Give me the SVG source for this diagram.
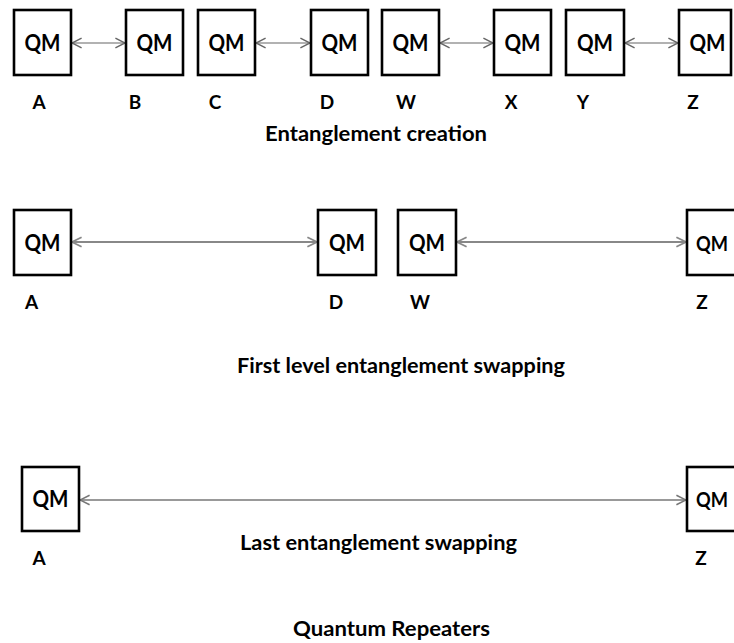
<svg xmlns="http://www.w3.org/2000/svg" width="734" height="643" viewBox="0 0 734 643">
<style>
.box{fill:#fff;stroke:#000;stroke-width:2.6}
.qm{font-family:Lato,"Open Sans",sans-serif;font-weight:bold;font-size:22px;fill:#000;text-anchor:middle}
.qme{font-family:Lato,"Open Sans",sans-serif;font-weight:bold;font-size:21px;fill:#000;text-anchor:start}
.lbl{font-family:Lato,"Open Sans",sans-serif;font-weight:bold;font-size:19px;fill:#000;text-anchor:middle}
.ttl{font-family:Lato,"Open Sans",sans-serif;font-weight:bold;font-size:21px;fill:#000;text-anchor:middle}
.c1{stroke:#666;stroke-width:1.2;fill:none;marker-start:url(#ah1);marker-end:url(#ah1)}
.c2{stroke:#888;stroke-width:1.8;fill:none;marker-start:url(#ah2);marker-end:url(#ah2)}
.c3{stroke:#777;stroke-width:1.4;fill:none;marker-start:url(#ah3);marker-end:url(#ah3)}
</style>
<defs>
<marker id="ah1" markerUnits="userSpaceOnUse" markerWidth="12" markerHeight="12" viewBox="-1 -1 10 10" refX="8" refY="4" orient="auto-start-reverse"><path d="M0,0 L8,4 L0,8" fill="none" stroke="#666" stroke-width="1.2"/></marker>
<marker id="ah2" markerUnits="userSpaceOnUse" markerWidth="12" markerHeight="12" viewBox="-1 -1 10 10" refX="8" refY="4" orient="auto-start-reverse"><path d="M0,0 L8,4 L0,8" fill="none" stroke="#888" stroke-width="1.5"/></marker>
<marker id="ah3" markerUnits="userSpaceOnUse" markerWidth="12" markerHeight="12" viewBox="-1 -1 10 10" refX="8" refY="4" orient="auto-start-reverse"><path d="M0,0 L8,4 L0,8" fill="none" stroke="#777" stroke-width="1.3"/></marker>
</defs>
<rect width="734" height="643" fill="#fff"/>

<g id="connectors">
<line class="c1" x1="72" y1="43" x2="125" y2="43"/>
<line class="c1" x1="256" y1="43" x2="310" y2="43"/>
<line class="c1" x1="440" y1="43" x2="493" y2="43"/>
<line class="c1" x1="625" y1="43" x2="678" y2="43"/>
<line class="c2" x1="72" y1="242" x2="317" y2="242"/>
<line class="c2" x1="457" y1="242" x2="686" y2="242"/>
<line class="c3" x1="80" y1="500" x2="686" y2="500"/>
</g>

<!-- Row 1 -->
<g id="r1-A"><rect class="box" x="14" y="10" width="57" height="65"/><text class="qm" x="42.5" y="51" textLength="36" lengthAdjust="spacingAndGlyphs">QM</text><text class="lbl" x="39" y="109">A</text></g>
<g id="r1-B"><rect class="box" x="126" y="10" width="57" height="65"/><text class="qm" x="154.5" y="51" textLength="36" lengthAdjust="spacingAndGlyphs">QM</text><text class="lbl" x="135" y="109">B</text></g>
<g id="r1-C"><rect class="box" x="198" y="10" width="57" height="65"/><text class="qm" x="226.5" y="51" textLength="36" lengthAdjust="spacingAndGlyphs">QM</text><text class="lbl" x="215" y="109">C</text></g>
<g id="r1-D"><rect class="box" x="311" y="10" width="57" height="65"/><text class="qm" x="339.5" y="51" textLength="36" lengthAdjust="spacingAndGlyphs">QM</text><text class="lbl" x="327" y="109">D</text></g>
<g id="r1-W"><rect class="box" x="382" y="10" width="57" height="65"/><text class="qm" x="410.5" y="51" textLength="36" lengthAdjust="spacingAndGlyphs">QM</text><text class="lbl" x="406" y="109">W</text></g>
<g id="r1-X"><rect class="box" x="494" y="10" width="57" height="65"/><text class="qm" x="522.5" y="51" textLength="36" lengthAdjust="spacingAndGlyphs">QM</text><text class="lbl" x="511" y="109">X</text></g>
<g id="r1-Y"><rect class="box" x="566" y="10" width="58" height="65"/><text class="qm" x="595" y="51" textLength="36" lengthAdjust="spacingAndGlyphs">QM</text><text class="lbl" x="583" y="109">Y</text></g>
<g id="r1-Z"><rect class="box" x="679" y="10" width="52" height="65"/><text class="qm" x="707.5" y="51" textLength="36" lengthAdjust="spacingAndGlyphs">QM</text><text class="lbl" x="693" y="109">Z</text></g>
<text class="ttl" x="376" y="141" textLength="222" lengthAdjust="spacingAndGlyphs">Entanglement creation</text>

<!-- Row 2 -->
<g id="r2-A"><rect class="box" x="14" y="210" width="57" height="65"/><text class="qm" x="42.5" y="251" textLength="36" lengthAdjust="spacingAndGlyphs">QM</text><text class="lbl" x="31.5" y="309">A</text></g>
<g id="r2-D"><rect class="box" x="318" y="210" width="58" height="65"/><text class="qm" x="347" y="251" textLength="36" lengthAdjust="spacingAndGlyphs">QM</text><text class="lbl" x="336" y="309">D</text></g>
<g id="r2-W"><rect class="box" x="398" y="210" width="58" height="65"/><text class="qm" x="427" y="251" textLength="36" lengthAdjust="spacingAndGlyphs">QM</text><text class="lbl" x="420" y="309">W</text></g>
<g id="r2-Z"><rect class="box" x="687" y="210" width="57" height="65"/><text class="qme" x="696" y="251" textLength="32" lengthAdjust="spacingAndGlyphs">QM</text><text class="lbl" x="702" y="309">Z</text></g>
<text class="ttl" x="401" y="373" textLength="328" lengthAdjust="spacingAndGlyphs">First level entanglement swapping</text>

<!-- Row 3 -->
<g id="r3-A"><rect class="box" x="22" y="467" width="57" height="64"/><text class="qm" x="50.5" y="507" textLength="36" lengthAdjust="spacingAndGlyphs">QM</text><text class="lbl" x="39" y="565">A</text></g>
<g id="r3-Z"><rect class="box" x="687" y="467" width="57" height="64"/><text class="qme" x="696" y="507" textLength="32" lengthAdjust="spacingAndGlyphs">QM</text><text class="lbl" x="701" y="565">Z</text></g>
<text class="ttl" x="378.5" y="550" textLength="277" lengthAdjust="spacingAndGlyphs">Last entanglement swapping</text>

<text class="ttl" x="391.5" y="636" textLength="197" lengthAdjust="spacingAndGlyphs">Quantum Repeaters</text>
</svg>
